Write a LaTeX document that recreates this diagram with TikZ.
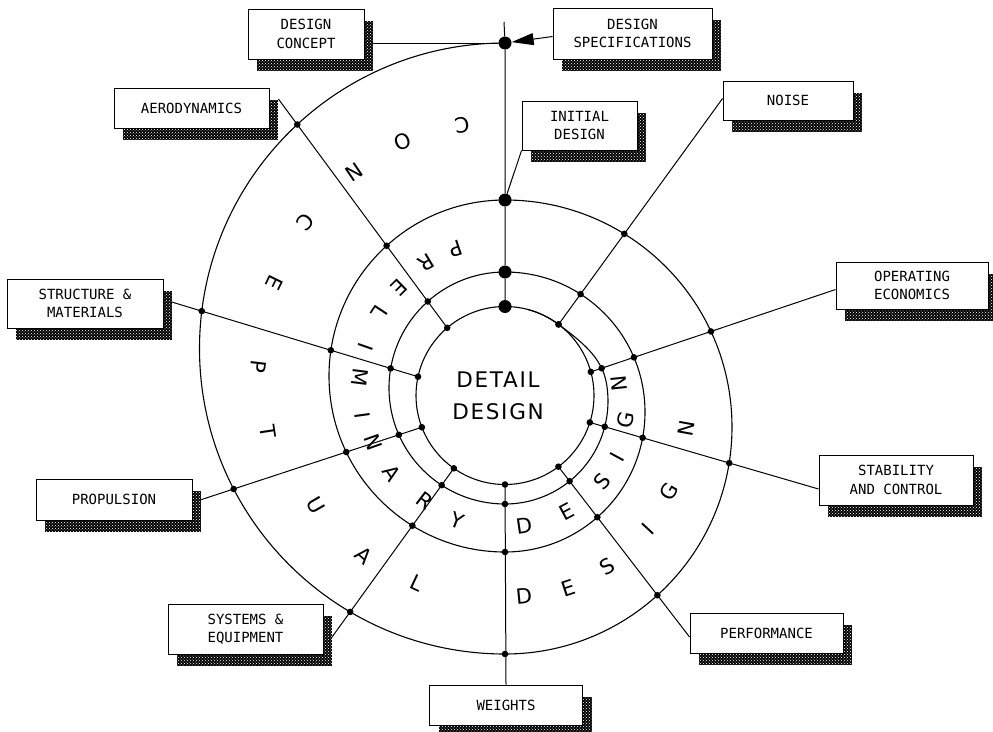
\documentclass[tikz,border=0pt]{standalone}
\usepackage{fontspec}
\setmainfont{DejaVu Sans Mono}
\newfontfamily\bandfont{DejaVu Sans}
\newfontfamily\corefont[LetterSpace=8]{DejaVu Sans}
\usepackage{tikz}
\usetikzlibrary{arrows.meta,calc,shadows,patterns,backgrounds,intersections}
\newcommand{\boxtext}{\fontsize{14}{18.5}\selectfont}
\newcommand{\bandtext}{\bandfont\fontsize{21}{21}\selectfont}
\newcommand{\coretext}{\corefont\fontsize{21.5}{32}\selectfont}
\tikzset{
    spiralbox/.style={
        draw, fill=white, line width=0.9pt, align=center, inner sep=0pt,
        font=\boxtext,
        general shadow={shadow xshift=9pt, shadow yshift=-11.5pt, fill=black},
        general shadow={shadow xshift=9pt, shadow yshift=-11.5pt,
            pattern=crosshatch dots, pattern color=white}},
    spiralline/.style={line width=1.1pt, line join=round},
    spokeline/.style={line width=1pt},
    hubdot/.style={circle, fill=black, inner sep=0pt, minimum size=13pt},
    bandletter/.style={font=\bandtext, inner sep=0pt},
    specarrow/.style={-{Triangle[length=22pt, width=12pt]}, line width=1pt},
}

\begin{document}
\begin{tikzpicture}[x=1pt, y=-1pt]
    \useasboundingbox (0,0) rectangle (993,731);

    % --- Boxes round the spiral -----------------------------------------------------
    \node[spiralbox, minimum width=116pt, minimum height=50pt] (concept) at (306,34) {DESIGN\\CONCEPT};
    \node[spiralbox, minimum width=159pt, minimum height=51pt] (specs) at (632.5,33.5) {DESIGN\\SPECIFICATIONS};
    \node[spiralbox, minimum width=115pt, minimum height=49pt] (init) at (579.5,125.5) {INITIAL\\DESIGN};
    \node[spiralbox, minimum width=130pt, minimum height=39pt] (noise) at (788,100.5) {NOISE};
    \node[spiralbox, minimum width=155pt, minimum height=40pt] (aero) at (191.5,108) {AERODYNAMICS};
    \node[spiralbox, minimum width=156pt, minimum height=49pt] (struct) at (85,303.5) {STRUCTURE \&\\MATERIALS};
    \node[spiralbox, minimum width=156pt, minimum height=41pt] (prop) at (114,499.5) {PROPULSION};
    \node[spiralbox, minimum width=155pt, minimum height=50pt] (sys) at (245.5,629) {SYSTEMS \&\\EQUIPMENT};
    \node[spiralbox, minimum width=153pt, minimum height=40pt] (weights) at (506,705) {WEIGHTS};
    \node[spiralbox, minimum width=153pt, minimum height=40pt] (perf) at (766.5,633) {PERFORMANCE};
    \node[spiralbox, minimum width=154pt, minimum height=50pt] (stab) at (896,480) {STABILITY\\AND CONTROL};
    \node[spiralbox, minimum width=152pt, minimum height=47pt] (econ) at (912,285.5) {OPERATING\\ECONOMICS};

    % --- Hub dots on the start line ---------------------------------------------------
    \coordinate (vtop) at (504,22);
    \node[hubdot] (T0) at (505,43) {};
    \node[hubdot] (T1) at (505,200) {};
    \node[hubdot] (T2) at (505,272) {};
    \node[hubdot] (T3) at (505,306.5) {};

    % --- Detail design circle and spoke feet ------------------------------------------
    \coordinate (ctr) at (505,395.5);
    \foreach \s/\ang in {a/130.5, s/167.8, p/200.9, y/234.9, w/270, f/306.9, b/342.4, e/15.4, n/53}
        \coordinate (\s I) at ($(ctr)+(\ang:89pt)$);
    \coordinate (B1) at (505,654);
    \coordinate (B2) at (505,552);
    \coordinate (B3) at (505,504);

    % --- Spiral, circle and connectors ------------------------------------------------
    \begin{scope}[on background layer]
        \draw[spiralline, name path global=spiral] (T0.center)
            arc[start angle=90, end angle=270, radius=305.5pt]
            arc[start angle=-90, end angle=90, radius=227pt]
            arc[start angle=90, end angle=270, radius=176pt]
            arc[start angle=-90, end angle=90, radius=140pt]
            arc[start angle=90, end angle=270, radius=116pt]
            arc[start angle=-90, end angle=10, radius=103pt]
            .. controls +(100:27pt) and +(-37:27pt) .. (nI)
            arc[start angle=53, end angle=75, radius=89pt];
        \draw[spiralline] (ctr) circle (89pt);
        \draw[spokeline] (vtop) -- (T0) -- (T1) -- (T2) -- (T3);
        \draw[spokeline] ([yshift=-9pt]concept.east) -- (T0);
        \draw[specarrow] ([yshift=-3pt]specs.west) -- (T0);
        \draw[spokeline] (init.south west) -- (T1);
        \draw[spokeline, name path global=ka] (aI) -- ([shift={(9pt,-11.5pt)}]aero.north east);
        \draw[spokeline, name path global=ks] (sI) -- ([yshift=4pt]struct.east);
        \draw[spokeline, name path global=kp] (pI) -- ([yshift=-3pt]prop.east);
        \draw[spokeline, name path global=ky] (yI) -- ([xshift=-4pt]sys.south east);
        \draw[spokeline] (wI) -- (weights.north);
        \draw[spokeline, name path global=kf] (fI) -- ([yshift=-4pt]perf.west);
        \draw[spokeline, name path global=kb] (bI) -- ([yshift=-9pt]stab.west);
        \draw[spokeline, name path global=ke] (eI) -- ([yshift=-4pt]econ.west);
        \draw[spokeline, name path global=kn] (nI) -- ([yshift=2pt]noise.west);
    \end{scope}

    % --- Small dots -------------------------------------------------------------------
    \foreach \k in {ka,ks,kp,ky,kf,kb,ke,kn}
        \fill[name intersections={of=spiral and \k, total=\t}]
            \foreach \j in {1,...,\t}{(intersection-\j) circle (3.3pt)};
    \foreach \d in {aI,sI,pI,yI,wI,fI,bI,eI,nI,B1,B2,B3}
        \fill (\d) circle (3.3pt);

    % --- Band letters -----------------------------------------------------------------
    \foreach \ch/\ang/\rad [count=\i] in {C/99/274, O/112/274, N/124/269, C/139/264,
            E/154/257, P/173.3/248, T/188.7/240, U/210.2/219, A/228.7/213, L/244.9/207,
            D/275.4/202, E/288.1/203, S/301/199, I/317/196, G/329.7/190, N/349.7/184}
        \node[bandletter, rotate=\ang+90] (cl\i) at ($(ctr)+(\ang:\rad pt)$) {\ch};
    \foreach \ch/\ang/\rad [count=\i] in {P/108.4/155, R/120.8/154, E/134.6/151,
            L/146.5/150, I/160.8/148, M/172.8/146, I/187.8/144, N/199.5/140, A/214.4/137,
            R/232.7/132, Y/249.2/134, D/278.3/132, E/297.9/131, S/318.4/129.5,
            I/331.4/128, G/348.5/123, N/366/115}
        \node[bandletter, rotate=\ang+90] (pl\i) at ($(ctr)+(\ang:\rad pt)$) {\ch};

    \node[font=\coretext, align=center, inner sep=0pt] (core) at (498,396) {DETAIL\\DESIGN};

\end{tikzpicture}
\end{document}
